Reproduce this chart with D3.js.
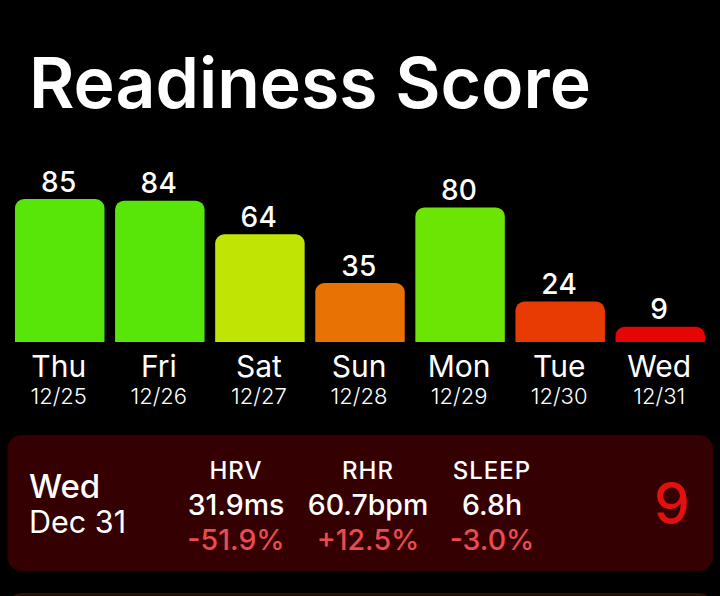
<!DOCTYPE html>
<html>
<head>
<meta charset="utf-8">
<script src="https://cdn.jsdelivr.net/npm/d3@7"></script>
<style>
  html, body { margin: 0; padding: 0; background: #000; overflow: hidden; }
  svg { display: block; font-family: Inter, "Noto Sans", sans-serif; }
  .axis .domain { display: none; }
  .axis line { display: none; }
</style>
</head>
<body>
<div id="chart"></div>
<script>
const days = ["Thu", "Fri", "Sat", "Sun", "Mon", "Tue", "Wed"];
const dates = ["12/25", "12/26", "12/27", "12/28", "12/29", "12/30", "12/31"];
const scores = [85, 84, 64, 35, 80, 24, 9];
const barColors = ["#58e608", "#58e608", "#c0e505", "#e87203", "#6ce505", "#e83a03", "#e60505"];

const metricNames = ["HRV", "RHR", "SLEEP"];
const metricValues = ["31.9ms", "60.7bpm", "6.8h"];
const metricChanges = ["-51.9%", "+12.5%", "-3.0%"];

const width = 720;
const height = 596;
const baseline = 342;

const svg = d3.select("#chart")
  .append("svg")
  .attr("width", width)
  .attr("height", height);

svg.append("rect")
  .attr("width", width)
  .attr("height", height)
  .attr("fill", "#000");

// Title
svg.append("text")
  .attr("x", 29)
  .attr("y", 108)
  .attr("font-size", 69.7)
  .attr("font-weight", 600)
  .attr("fill", "#fff")
  .text("Readiness Score");

// Scales
const x = d3.scaleBand()
  .domain(days)
  .range([15, 705])
  .paddingInner(0.106)
  .paddingOuter(0);

const y = d3.scaleLinear()
  .domain([0, 85])
  .range([baseline, 199]);

const radius = 9;

// Bars, rounded at the top only
const barPath = (d, i) => {
  const x0 = x(days[i]);
  const x1 = x0 + x.bandwidth();
  const top = y(d);
  const p = d3.path();
  p.moveTo(x0, baseline);
  p.lineTo(x0, top + radius);
  p.arcTo(x0, top, x0 + radius, top, radius);
  p.lineTo(x1 - radius, top);
  p.arcTo(x1, top, x1, top + radius, radius);
  p.lineTo(x1, baseline);
  p.closePath();
  return p.toString();
};

svg.selectAll(".bar")
  .data(scores)
  .join("path")
  .attr("class", "bar")
  .attr("d", barPath)
  .attr("fill", (d, i) => barColors[i]);

// Value labels
svg.selectAll(".value")
  .data(scores)
  .join("text")
  .attr("class", "value")
  .attr("x", (d, i) => x(days[i]) + x.bandwidth() / 2 - 1)
  .attr("y", d => y(d) - 7.5)
  .attr("text-anchor", "middle")
  .attr("font-size", 28)
  .attr("font-weight", 500)
  .attr("letter-spacing", 0.3)
  .attr("fill", "#fff")
  .text(d => d);

// Day axis
const dayAxis = svg.append("g")
  .attr("class", "axis")
  .attr("transform", `translate(-1,${baseline})`)
  .call(d3.axisBottom(x).tickSize(0).tickPadding(13.7));
dayAxis.selectAll("text")
  .attr("font-family", "Inter, sans-serif")
  .attr("font-size", 30)
  .attr("fill", "#fff");

// Date axis
const dateScale = d3.scaleBand()
  .domain(dates)
  .range(x.range())
  .paddingInner(x.paddingInner())
  .paddingOuter(0);
const dateAxis = svg.append("g")
  .attr("class", "axis")
  .attr("transform", "translate(-1,380)")
  .call(d3.axisBottom(dateScale).tickSize(0).tickPadding(8));
dateAxis.selectAll("text")
  .attr("font-family", "Inter, sans-serif")
  .attr("font-size", 22)
  .attr("font-weight", 300)
  .attr("fill", "#fff");

// Detail card for the last day
svg.append("rect")
  .attr("x", 7.5)
  .attr("y", 435)
  .attr("width", 705.5)
  .attr("height", 136)
  .attr("rx", 14)
  .attr("fill", "#340001");

svg.append("text")
  .attr("x", 29)
  .attr("y", 497.5)
  .attr("font-size", 33)
  .attr("font-weight", 500)
  .attr("fill", "#fff")
  .text("Wed");

svg.append("text")
  .attr("x", 29)
  .attr("y", 533)
  .attr("font-size", 30.5)
  .attr("fill", "#fff")
  .text("Dec 31");

const metricX = d3.scaleOrdinal()
  .domain(metricNames)
  .range([236, 368, 492]);

svg.selectAll(".metric-name")
  .data(metricNames)
  .join("text")
  .attr("class", "metric-name")
  .attr("x", d => metricX(d))
  .attr("y", 479)
  .attr("text-anchor", "middle")
  .attr("font-size", 24)
  .attr("font-weight", 500)
  .attr("letter-spacing", 1)
  .attr("fill", "#fff")
  .text(d => d);

svg.selectAll(".metric-value")
  .data(metricValues)
  .join("text")
  .attr("class", "metric-value")
  .attr("x", (d, i) => metricX(metricNames[i]))
  .attr("y", 515)
  .attr("text-anchor", "middle")
  .attr("font-size", 28.5)
  .attr("font-weight", 500)
  .attr("fill", "#fff")
  .text(d => d);

svg.selectAll(".metric-change")
  .data(metricChanges)
  .join("text")
  .attr("class", "metric-change")
  .attr("x", (d, i) => metricX(metricNames[i]))
  .attr("y", 550)
  .attr("text-anchor", "middle")
  .attr("font-size", 28.5)
  .attr("font-weight", 500)
  .attr("fill", "#e84b50")
  .text(d => d);

svg.append("text")
  .attr("x", 672)
  .attr("y", 523.5)
  .attr("text-anchor", "middle")
  .attr("font-size", 57)
  .attr("font-weight", 500)
  .attr("fill", "#e60f0f")
  .text(scores[scores.length - 1]);

// Top edge of the next card
svg.append("rect")
  .attr("x", 7.5)
  .attr("y", 593)
  .attr("width", 705.5)
  .attr("height", 40)
  .attr("rx", 14)
  .attr("fill", "#2e1000");
</script>
</body>
</html>
